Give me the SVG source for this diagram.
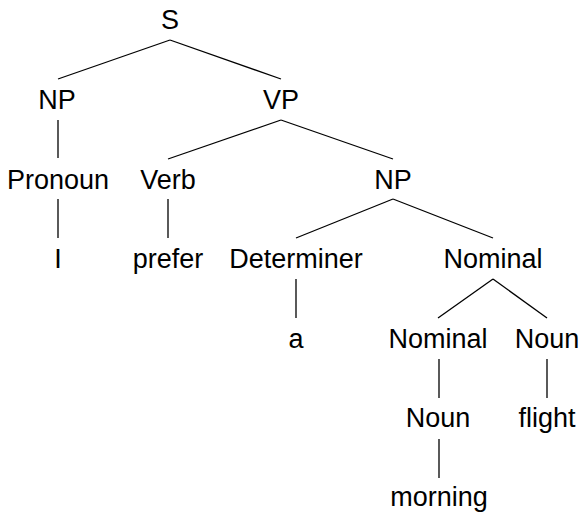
<svg xmlns="http://www.w3.org/2000/svg" width="581" height="513" viewBox="0 0 581 513">
<style>
text{font-family:"Liberation Sans",Arial,sans-serif;font-size:27px;fill:#000;text-anchor:middle}
line{stroke:#000;stroke-width:1.3}
</style>
<rect width="581" height="513" fill="#fff"/>
<g id="connectors">
<line x1="170" y1="40" x2="58" y2="79"/>
<line x1="170" y1="40" x2="281" y2="79"/>
<line x1="58" y1="120" x2="58" y2="158"/>
<line x1="281" y1="120" x2="168" y2="159"/>
<line x1="281" y1="120" x2="393" y2="159"/>
<line x1="58" y1="199" x2="58" y2="238"/>
<line x1="168" y1="199" x2="168" y2="238"/>
<line x1="393" y1="199" x2="296" y2="238"/>
<line x1="393" y1="199" x2="493" y2="238"/>
<line x1="296" y1="279" x2="296" y2="318"/>
<line x1="493" y1="279" x2="438" y2="318"/>
<line x1="493" y1="279" x2="547" y2="318"/>
<line x1="439" y1="359" x2="439" y2="398"/>
<line x1="547" y1="359" x2="547" y2="398"/>
<line x1="439" y1="439" x2="439" y2="478"/>
</g>
<g id="S"><text x="170" y="29">S</text></g>
<g id="NP1"><text x="57" y="109">NP</text></g>
<g id="VP"><text x="281" y="109">VP</text></g>
<g id="Pronoun"><text x="58" y="189">Pronoun</text></g>
<g id="Verb"><text x="168" y="189">Verb</text></g>
<g id="NP2"><text x="393" y="189">NP</text></g>
<g id="I"><text x="58" y="268">I</text></g>
<g id="prefer"><text x="168" y="268">prefer</text></g>
<g id="Determiner"><text x="296" y="268">Determiner</text></g>
<g id="Nominal1"><text x="493" y="268">Nominal</text></g>
<g id="a"><text x="296" y="348">a</text></g>
<g id="Nominal2"><text x="438" y="348">Nominal</text></g>
<g id="Noun1"><text x="547" y="348">Noun</text></g>
<g id="Noun2"><text x="438" y="427">Noun</text></g>
<g id="flight"><text x="547" y="427">flight</text></g>
<g id="morning"><text x="439" y="506">morning</text></g>
</svg>
